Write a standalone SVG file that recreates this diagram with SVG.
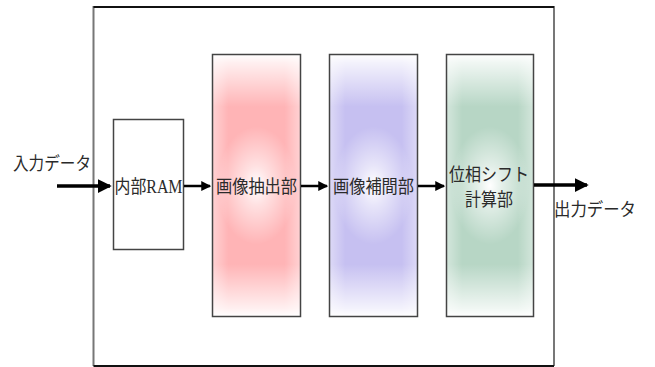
<svg xmlns="http://www.w3.org/2000/svg" width="655" height="367" viewBox="0 0 655 367">
<defs>
<style>
.lbl{font-family:"Liberation Serif","Noto Sans CJK JP",serif;font-size:18px;fill:#2a2a2a;}
.box{stroke:#444;stroke-width:1.5;}
.ov{stroke:none;}
.con{stroke:#000;fill:none;}
</style>
<linearGradient id="fadeV" x1="0" y1="0" x2="0" y2="1">
<stop offset="0" stop-color="#fff" stop-opacity="1"/>
<stop offset="0.03" stop-color="#fff" stop-opacity="0.8"/>
<stop offset="0.2" stop-color="#fff" stop-opacity="0"/>
<stop offset="0.8" stop-color="#fff" stop-opacity="0"/>
<stop offset="0.97" stop-color="#fff" stop-opacity="0.8"/>
<stop offset="1" stop-color="#fff" stop-opacity="1"/>
</linearGradient>
<linearGradient id="fadeH" x1="0" y1="0" x2="1" y2="0">
<stop offset="0" stop-color="#fff" stop-opacity="0.4"/>
<stop offset="0.18" stop-color="#fff" stop-opacity="0"/>
<stop offset="0.82" stop-color="#fff" stop-opacity="0"/>
<stop offset="1" stop-color="#fff" stop-opacity="0.4"/>
</linearGradient>
<radialGradient id="glow" cx="0.5" cy="0.5" r="0.5" gradientTransform="translate(0 0.5) scale(1 0.5) translate(0 -0.5)">
<stop offset="0" stop-color="#fff" stop-opacity="1"/>
<stop offset="0.3" stop-color="#fff" stop-opacity="0.6"/>
<stop offset="0.9" stop-color="#fff" stop-opacity="0"/>
</radialGradient>
<marker id="ah2" markerWidth="4" markerHeight="4" refX="3.5" refY="2" orient="auto" markerUnits="strokeWidth">
<path d="M0,0 L4,2 L0,4 Z" fill="#000"/>
</marker>
</defs>
<rect width="655" height="367" fill="#fff"/>
<g id="frame">
<path d="M93.5,366 V7 H554 V366" fill="none" stroke="#777" stroke-width="2"/>
<path d="M93.5,7 H554" stroke="#111" stroke-width="2"/>
<path d="M93.5,366 H554" stroke="#111" stroke-width="2"/>
</g>
<g id="ram">
<rect class="box" x="113.5" y="119.5" width="70" height="130" fill="#fff"/>
<text class="lbl" x="148.5" y="193" text-anchor="middle" textLength="68" lengthAdjust="spacingAndGlyphs">内部RAM</text>
</g>
<g id="extract">
<rect x="212.5" y="54.5" width="88" height="262" fill="#ffb4b6"/>
<rect class="ov" x="212.5" y="54.5" width="88" height="262" fill="url(#glow)"/>
<rect class="ov" x="212.5" y="54.5" width="88" height="262" fill="url(#fadeH)"/>
<rect class="ov" x="212.5" y="54.5" width="88" height="262" fill="url(#fadeV)"/>
<rect class="box" x="212.5" y="54.5" width="88" height="262" fill="none"/>
<text class="lbl" x="256.5" y="193" text-anchor="middle" textLength="81" lengthAdjust="spacingAndGlyphs">画像抽出部</text>
</g>
<g id="interp">
<rect x="329.5" y="54.5" width="88" height="262" fill="#c6c0f1"/>
<rect class="ov" x="329.5" y="54.5" width="88" height="262" fill="url(#glow)"/>
<rect class="ov" x="329.5" y="54.5" width="88" height="262" fill="url(#fadeH)"/>
<rect class="ov" x="329.5" y="54.5" width="88" height="262" fill="url(#fadeV)"/>
<rect class="box" x="329.5" y="54.5" width="88" height="262" fill="none"/>
<text class="lbl" x="373.5" y="193" text-anchor="middle" textLength="81" lengthAdjust="spacingAndGlyphs">画像補間部</text>
</g>
<g id="phase">
<rect x="446.5" y="54.5" width="87" height="262" fill="#b7d6c5"/>
<rect class="ov" x="446.5" y="54.5" width="87" height="262" fill="url(#glow)"/>
<rect class="ov" x="446.5" y="54.5" width="87" height="262" fill="url(#fadeH)"/>
<rect class="ov" x="446.5" y="54.5" width="87" height="262" fill="url(#fadeV)"/>
<rect class="box" x="446.5" y="54.5" width="87" height="262" fill="none"/>
<text class="lbl" x="489" y="181" text-anchor="middle" textLength="80" lengthAdjust="spacingAndGlyphs">位相シフト</text>
<text class="lbl" x="489" y="206" text-anchor="middle" textLength="48" lengthAdjust="spacingAndGlyphs">計算部</text>
</g>
<g id="in-label"><text class="lbl" x="13" y="170" font-size="19" textLength="78" lengthAdjust="spacingAndGlyphs">入力データ</text></g>
<g id="out-label"><text class="lbl" x="554" y="216" font-size="19" textLength="82" lengthAdjust="spacingAndGlyphs">出力データ</text></g>
<g id="connectors">
<line class="con" x1="57" y1="186" x2="110" y2="186" stroke-width="3.5" marker-end="url(#ah2)"/>
<line class="con" x1="184" y1="186" x2="210" y2="186" stroke-width="2.5" marker-end="url(#ah2)"/>
<line class="con" x1="301" y1="186" x2="327" y2="186" stroke-width="2.5" marker-end="url(#ah2)"/>
<line class="con" x1="418" y1="186" x2="444" y2="186" stroke-width="2.5" marker-end="url(#ah2)"/>
<line class="con" x1="534" y1="185" x2="587" y2="185" stroke-width="3.5" marker-end="url(#ah2)"/>
</g>
</svg>
